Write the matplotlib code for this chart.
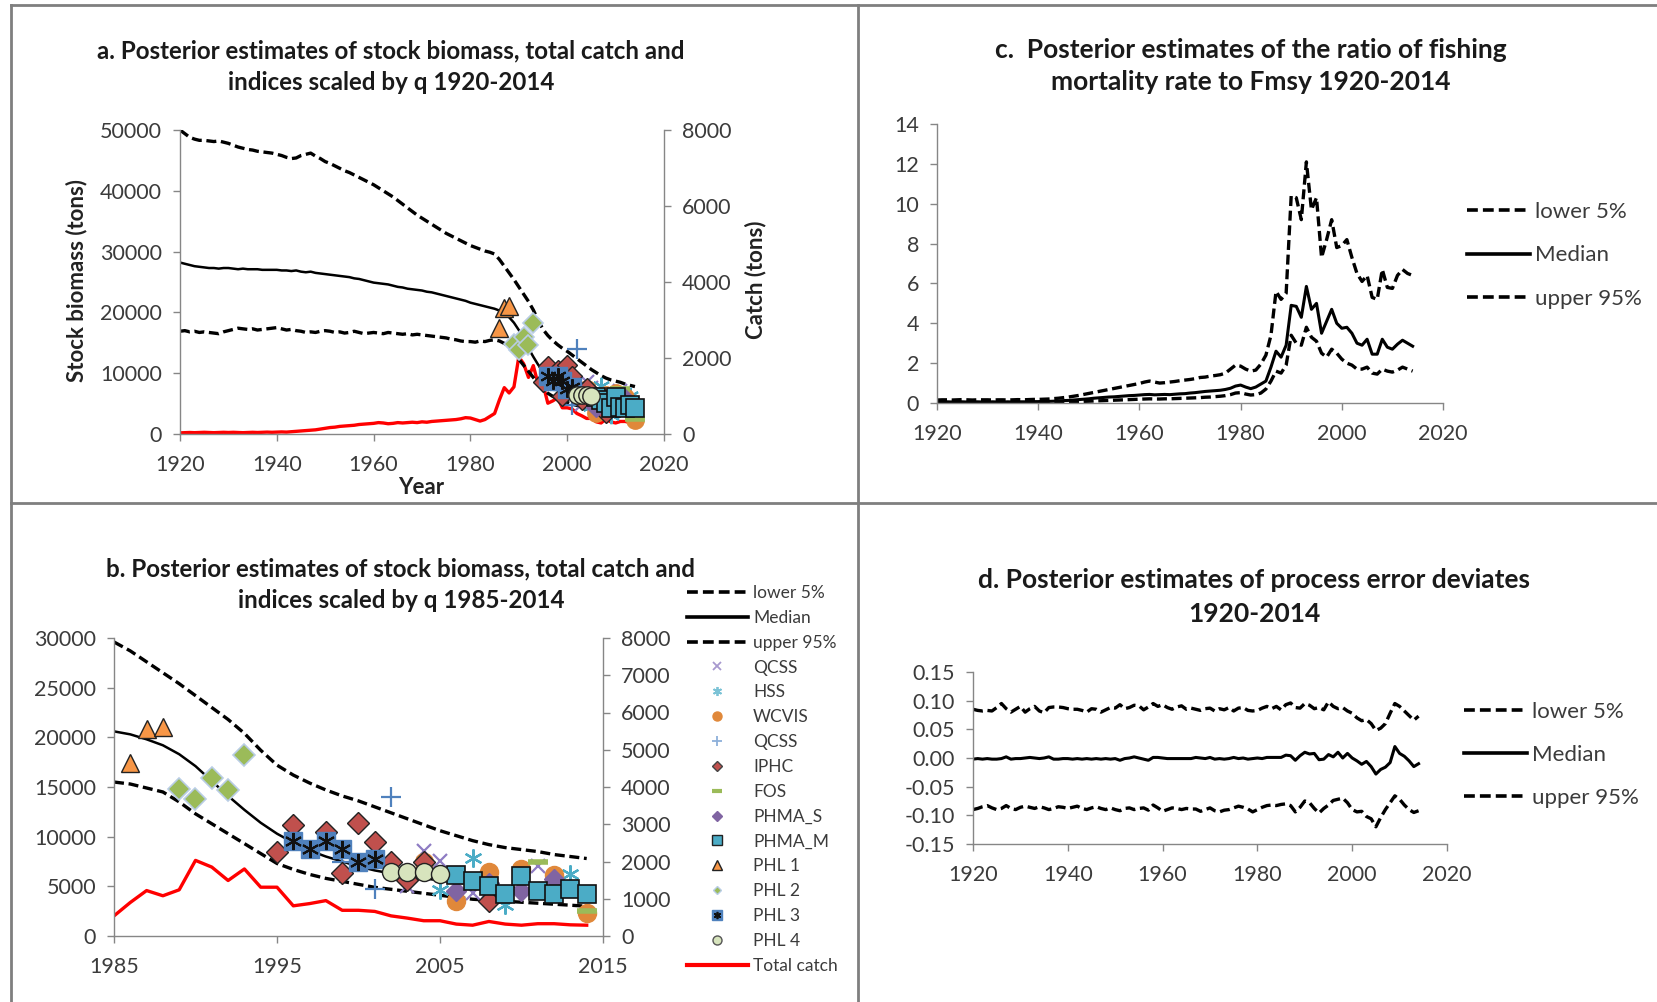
import numpy as np
import matplotlib.pyplot as plt
from matplotlib.lines import Line2D
from matplotlib.ticker import FormatStrFormatter, MultipleLocator

plt.rcParams['font.family'] = ['Lato', 'DejaVu Sans']

# ---------------- data ----------------
years = list(range(1920, 2015))

biomass_upper = [50000, 49400, 48800, 48500, 48300, 48300, 48200, 48100, 48200, 48000,
                 47800, 47500, 47200, 47000, 46800, 46700, 46500, 46400, 46300, 46200,
                 46000, 45800, 45500, 45300, 45400, 45800, 46000, 46200, 45700, 45300,
                 44800, 44500, 44100, 43700, 43300, 43000, 42600, 42200, 41800, 41400,
                 41000, 40500, 40000, 39500, 39000, 38400, 37800, 37200, 36600, 36000,
                 35500, 35000, 34500, 34000, 33500, 33000, 32600, 32200, 31800, 31400,
                 31000, 30700, 30400, 30100, 29900, 29600, 28700, 27600, 26500, 25400,
                 24200, 23000, 21800, 20400, 18700, 17200, 16200, 15400, 14700, 14100,
                 13600, 13000, 12400, 11800, 11200, 10600, 10100, 9600, 9200, 8900,
                 8700, 8500, 8200, 8000, 7800]
biomass_median = [28200, 28000, 27800, 27600, 27500, 27400, 27300, 27300, 27200, 27300,
                  27300, 27200, 27100, 27200, 27100, 27100, 27100, 27000, 27000, 27000,
                  27000, 26900, 26900, 26800, 26900, 26700, 26600, 26700, 26500, 26400,
                  26300, 26200, 26100, 26000, 25900, 25800, 25600, 25500, 25300, 25100,
                  24900, 24800, 24700, 24600, 24400, 24200, 24100, 23900, 23800, 23700,
                  23600, 23400, 23300, 23100, 22900, 22700, 22500, 22300, 22100, 21900,
                  21600, 21400, 21200, 21000, 20800, 20600, 20300, 19800, 19200, 18300,
                  17100, 15600, 14100, 12700, 11400, 10300, 9400, 8600, 8000, 7500,
                  7000, 6600, 6300, 6000, 5800, 5600, 5400, 5200, 5000, 4900,
                  4800, 4700, 4600, 4500, 4400]
biomass_lower = [16900, 17000, 16800, 16900, 16700, 16800, 16700, 16600, 16500, 16800,
                 17000, 17200, 17400, 17300, 17200, 17300, 17100, 17200, 17300, 17400,
                 17500, 17300, 17100, 17200, 17000, 16900, 16700, 16800, 16700, 16900,
                 17000, 16900, 16700, 16800, 16600, 16700, 16900, 16700, 16500, 16600,
                 16700, 16600, 16500, 16700, 16600, 16500, 16400, 16500, 16300, 16400,
                 16300, 16200, 16100, 16000, 15900, 15800, 15600, 15500, 15300, 15200,
                 15200, 15100, 15300, 15200, 15400, 15500, 15300, 14900, 14500, 13500,
                 12300, 11300, 10300, 9300, 8300, 7300, 6700, 6200, 5800, 5500,
                 5200, 4900, 4700, 4500, 4300, 4100, 3900, 3700, 3600, 3500,
                 3400, 3300, 3200, 3100, 3000]
total_catch = [30, 35, 40, 35, 40, 45, 40, 35, 40, 45,
               40, 45, 40, 35, 40, 45, 40, 45, 50, 45,
               50, 55, 50, 60, 70, 80, 90, 100, 110, 130,
               150, 170, 180, 200, 210, 220, 230, 250, 260, 270,
               280, 300, 290, 270, 280, 300, 290, 300, 310, 300,
               320, 310, 330, 340, 350, 360, 370, 380, 400, 430,
               420, 380, 340, 380, 460, 540, 900, 1220, 1080, 1240,
               2030, 1850, 1490, 1800, 1310, 1310, 810, 870, 950, 690,
               690, 660, 540, 480, 410, 410, 320, 290, 390, 320,
               290, 330, 330, 300, 290]

# abundance indices scaled by q
qcss1_yr = [2003, 2004, 2005, 2007, 2008, 2011, 2012]
qcss1 = [5000, 8600, 7600, 4300, 4500, 7000, 5500]
hss_yr = [2005, 2007, 2009, 2013]
hss = [4600, 7900, 3100, 6200]
wcvis_yr = [2004, 2006, 2008, 2010, 2012, 2014]
wcvis = [7400, 3500, 6400, 6700, 6100, 2300]
qcss2_yr = [1999, 2001, 2002]
qcss2 = [7500, 4700, 14000]
iphc_yr = [1995, 1996, 1998, 1999, 2000, 2001, 2002, 2003, 2004, 2008]
iphc = [8500, 11200, 10500, 6300, 11400, 9500, 7500, 5600, 7500, 3500]
fos_yr = [2011, 2014]
fos = [7400, 2500]
phma_s_yr = [2006, 2008, 2010, 2012]
phma_s = [4500, 5300, 4500, 5700]
phma_m_yr = [2006, 2007, 2008, 2009, 2010, 2011, 2012, 2013, 2014]
phma_m = [6100, 5550, 5050, 4200, 6050, 4500, 4250, 4750, 4200]
phl1_yr = [1986, 1987, 1988]
phl1 = [17400, 20800, 21000]
phl2_yr = [1989, 1990, 1991, 1992, 1993]
phl2 = [14800, 13800, 15900, 14700, 18200]
phl3_yr = [1996, 1997, 1998, 1999, 2000, 2001]
phl3 = [9600, 8750, 9600, 8750, 7400, 7750]
phl4_yr = [2002, 2003, 2004, 2005]
phl4 = [6400, 6400, 6400, 6200]

# F / Fmsy
f_upper = [0.15, 0.16, 0.16, 0.15, 0.16, 0.17, 0.16, 0.15, 0.16, 0.16,
           0.16, 0.15, 0.16, 0.16, 0.15, 0.16, 0.17, 0.16, 0.17, 0.18,
           0.18, 0.19, 0.20, 0.22, 0.24, 0.27, 0.30, 0.34, 0.38, 0.43,
           0.48, 0.53, 0.58, 0.63, 0.68, 0.73, 0.78, 0.83, 0.88, 0.93,
           0.98, 1.05, 1.10, 1.05, 1.00, 1.02, 1.05, 1.08, 1.12, 1.15,
           1.18, 1.22, 1.28, 1.30, 1.35, 1.38, 1.42, 1.50, 1.70, 1.90,
           1.85, 1.70, 1.60, 1.65, 1.95, 2.40, 3.40, 5.60, 5.20, 5.50,
           10.40, 10.30, 9.20, 12.10, 9.70, 10.30, 7.30, 8.20, 9.20, 7.80,
           7.90, 8.20, 7.30, 6.50, 6.10, 6.40, 5.30, 5.20, 6.70, 5.80,
           5.75, 6.40, 6.70, 6.50, 6.40]
f_median = [0.05, 0.05, 0.06, 0.05, 0.05, 0.06, 0.05, 0.05, 0.06, 0.05,
            0.05, 0.06, 0.05, 0.05, 0.06, 0.05, 0.06, 0.06, 0.06, 0.07,
            0.07, 0.08, 0.08, 0.09, 0.10, 0.12, 0.13, 0.15, 0.17, 0.19,
            0.21, 0.24, 0.26, 0.28, 0.30, 0.31, 0.33, 0.35, 0.37, 0.38,
            0.40, 0.42, 0.43, 0.41, 0.42, 0.43, 0.42, 0.44, 0.46, 0.47,
            0.50, 0.52, 0.55, 0.58, 0.60, 0.62, 0.64, 0.68, 0.74, 0.85,
            0.90, 0.80, 0.72, 0.80, 0.95, 1.10, 1.80, 2.60, 2.30, 2.90,
            4.90, 4.85, 4.30, 5.85, 4.70, 5.00, 3.50, 4.10, 4.70, 4.00,
            3.75, 3.80, 3.50, 3.00, 2.90, 3.20, 2.45, 2.45, 3.20, 2.80,
            2.70, 2.95, 3.15, 3.00, 2.85]
f_lower = [0.02, 0.02, 0.02, 0.02, 0.02, 0.02, 0.02, 0.02, 0.02, 0.02,
           0.02, 0.02, 0.02, 0.02, 0.02, 0.02, 0.02, 0.03, 0.03, 0.03,
           0.03, 0.03, 0.03, 0.04, 0.04, 0.05, 0.05, 0.06, 0.07, 0.08,
           0.09, 0.10, 0.11, 0.12, 0.13, 0.14, 0.15, 0.16, 0.17, 0.18,
           0.19, 0.20, 0.21, 0.20, 0.20, 0.21, 0.21, 0.22, 0.23, 0.24,
           0.25, 0.26, 0.27, 0.29, 0.30, 0.32, 0.34, 0.37, 0.42, 0.50,
           0.52, 0.45, 0.40, 0.42, 0.50, 0.70, 1.10, 1.60, 1.50, 1.90,
           3.40, 3.00, 2.90, 3.80, 3.30, 3.10, 2.50, 2.30, 2.70, 2.50,
           2.20, 2.00, 1.90, 1.70, 1.70, 1.80, 1.50, 1.45, 1.70, 1.60,
           1.55, 1.65, 1.80, 1.70, 1.60]

# process error deviates
dev_upper = [0.085, 0.083, 0.082, 0.083, 0.082, 0.088, 0.095, 0.086, 0.080, 0.085,
             0.090, 0.080, 0.086, 0.090, 0.082, 0.079, 0.088, 0.089, 0.089, 0.088,
             0.086, 0.085, 0.085, 0.083, 0.080, 0.086, 0.085, 0.080, 0.084, 0.088,
             0.087, 0.093, 0.086, 0.088, 0.092, 0.091, 0.084, 0.089, 0.095, 0.090,
             0.093, 0.088, 0.085, 0.089, 0.091, 0.085, 0.087, 0.085, 0.083, 0.086,
             0.087, 0.082, 0.086, 0.084, 0.088, 0.082, 0.087, 0.088, 0.083, 0.082,
             0.083, 0.087, 0.090, 0.086, 0.090, 0.084, 0.093, 0.096, 0.088, 0.087,
             0.095, 0.092, 0.086, 0.088, 0.084, 0.098, 0.090, 0.086, 0.088, 0.082,
             0.078, 0.070, 0.065, 0.067, 0.060, 0.048, 0.052, 0.060, 0.078, 0.095,
             0.090, 0.082, 0.074, 0.066, 0.073]
dev_median = [-0.002, -0.001, -0.002, -0.001, -0.002, -0.002, -0.001, 0.002, -0.002, -0.001,
              -0.001, 0.000, 0.001, 0.000, -0.001, 0.000, 0.002, -0.002, -0.002, -0.001,
              -0.001, -0.002, -0.001, -0.002, -0.001, -0.002, -0.001, -0.002, -0.001, -0.002,
              -0.001, -0.004, -0.001, 0.000, 0.002, 0.000, -0.002, -0.004, 0.001, 0.001,
              0.000, -0.001, -0.001, -0.001, -0.001, -0.001, -0.001, 0.001, 0.000, -0.001,
              0.001, -0.002, -0.001, -0.002, -0.001, 0.001, -0.001, 0.000, -0.002, -0.001,
              0.000, -0.001, 0.001, 0.001, 0.001, 0.001, 0.005, 0.004, -0.004, 0.004,
              0.010, 0.007, 0.008, -0.003, -0.002, 0.006, 0.002, 0.010, 0.000, 0.008,
              0.000, -0.005, -0.011, -0.006, -0.015, -0.028, -0.020, -0.016, -0.008, 0.020,
              0.008, 0.003, -0.005, -0.015, -0.010]
dev_lower = [-0.090, -0.088, -0.085, -0.083, -0.087, -0.090, -0.088, -0.083, -0.088, -0.090,
             -0.086, -0.084, -0.086, -0.088, -0.085, -0.087, -0.090, -0.088, -0.085, -0.086,
             -0.088, -0.086, -0.084, -0.088, -0.090, -0.087, -0.085, -0.088, -0.090, -0.087,
             -0.090, -0.092, -0.088, -0.087, -0.090, -0.088, -0.087, -0.091, -0.082, -0.087,
             -0.093, -0.090, -0.087, -0.088, -0.090, -0.088, -0.089, -0.089, -0.093, -0.090,
             -0.087, -0.092, -0.094, -0.091, -0.090, -0.087, -0.084, -0.086, -0.089, -0.094,
             -0.090, -0.086, -0.083, -0.082, -0.083, -0.081, -0.080, -0.083, -0.094, -0.086,
             -0.075, -0.078, -0.088, -0.096, -0.088, -0.082, -0.074, -0.072, -0.070, -0.078,
             -0.090, -0.094, -0.093, -0.102, -0.106, -0.120, -0.104, -0.090, -0.078, -0.066,
             -0.072, -0.082, -0.090, -0.095, -0.092]

# ---------------- layout ----------------
W, H = 1658, 1002
fig = plt.figure(figsize=(W / 100, H / 100), dpi=100)

GRAY = '#868686'
TXT = '#3b3b3b'
DASH = (0, (3, 1.4))
TICK_FS = 15.5


def px_box(l, t, r, b):
    return [l / W, 1 - b / H, (r - l) / W, (b - t) / H]


def fx(x):
    return x / W


def fy(y):
    return 1 - y / H


def style(ax, right=False):
    ax.spines['top'].set_visible(False)
    ax.spines['right'].set_visible(right)
    for s in ['left', 'bottom', 'right']:
        ax.spines[s].set_color(GRAY)
        ax.spines[s].set_linewidth(1.0)
    ax.tick_params(colors=GRAY, labelcolor=TXT, labelsize=TICK_FS, length=5, width=1, direction='out')
    ax.tick_params(axis='x', pad=10)
    ax.tick_params(axis='y', pad=8)
    ax.patch.set_visible(False)


def title(cx, y1, y2, line1, line2, fs):
    fig.text(fx(cx), fy(y1), line1, ha='center', va='center', fontsize=fs, fontweight='bold', color='#1a1a1a')
    fig.text(fx(cx), fy(y2), line2, ha='center', va='center', fontsize=fs, fontweight='bold', color='#1a1a1a')


def draw_indices(ax, ms):
    ax.plot(qcss1_yr, qcss1, ls='none', marker='x', ms=ms * 0.8, mec='#8E7CC3', mew=1.6)
    ax.plot(hss_yr, hss, ls='none', marker=(6, 2, 0), ms=ms, mec='#4BACC6', mew=1.6)
    ax.plot(wcvis_yr, wcvis, ls='none', marker='o', ms=ms, mfc='#E0883A', mec='#E0883A')
    ax.plot(qcss2_yr, qcss2, ls='none', marker='+', ms=ms * 1.1, mec='#4F81BD', mew=1.6)
    ax.plot(iphc_yr, iphc, ls='none', marker='D', ms=ms * 0.85, mfc='#C0504D', mec='#222222', mew=1.0)
    ax.plot(fos_yr, fos, ls='none', marker='_', ms=ms * 1.1, mec='#9BBB59', mew=4)
    ax.plot(phma_s_yr, phma_s, ls='none', marker='D', ms=ms * 0.8, mfc='#8064A2', mec='#8064A2')
    ax.plot(phma_m_yr, phma_m, ls='none', marker='s', ms=ms, mfc='#4BACC6', mec='#111111', mew=1.2)
    ax.plot(phl1_yr, phl1, ls='none', marker='^', ms=ms * 1.05, mfc='#F79646', mec='#222222', mew=1.0)
    ax.plot(phl2_yr, phl2, ls='none', marker='D', ms=ms * 0.85, mfc='#9BBB59', mec='#B9CDE5', mew=1.2)
    ax.plot(phl3_yr, phl3, ls='none', marker='s', ms=ms, mfc='#4F81BD', mec='#4F81BD')
    ax.plot(phl3_yr, phl3, ls='none', marker=(6, 2, 0), ms=ms * 0.95, mec='#111111', mew=1.5)
    ax.plot(phl4_yr, phl4, ls='none', marker='o', ms=ms, mfc='#D7E4BD', mec='#222222', mew=1.0)


def frame_line(x0, y0, x1, y1):
    fig.add_artist(Line2D([fx(x0), fx(x1)], [fy(y0), fy(y1)], color='#7f7f7f', lw=2))


frame_line(11, 5, 1658, 5)
frame_line(11, 5, 11, 1002)
frame_line(858, 5, 858, 1002)
frame_line(11, 503, 1658, 503)

# ---- a ----
ax = fig.add_axes(px_box(180, 130, 664, 434))
ax2 = ax.twinx()
ax.set_zorder(ax2.get_zorder() + 1)
ax2.plot(years, total_catch, color='#FF0000', lw=2.4)
ax.plot(years, biomass_upper, color='black', lw=2.4, ls=DASH)
ax.plot(years, biomass_median, color='black', lw=1.8)
ax.plot(years, biomass_lower, color='black', lw=2.4, ls=DASH)
draw_indices(ax, 12.5)
ax.set_xlim(1920, 2020)
ax.set_ylim(0, 50000)
ax2.set_ylim(0, 8000)
ax.xaxis.set_major_locator(MultipleLocator(20))
ax.yaxis.set_major_locator(MultipleLocator(10000))
ax2.yaxis.set_major_locator(MultipleLocator(2000))
style(ax)
style(ax2, right=True)
ax2.spines['left'].set_visible(False)
ax2.spines['bottom'].set_visible(False)
fig.text(fx(77), fy(280), 'Stock biomass (tons)', rotation=90, ha='center', va='center',
         fontsize=16, fontweight='bold', color='#222222')
fig.text(fx(756), fy(280), 'Catch (tons)', rotation=90, ha='center', va='center',
         fontsize=16, fontweight='bold', color='#222222')
fig.text(fx(421), fy(487), 'Year', ha='center', va='center', fontsize=16, fontweight='bold', color='#222222')
title(391, 51, 83, 'a. Posterior estimates of stock biomass, total catch and',
      'indices scaled by q 1920-2014', 17.4)

# ---- b ----
i0 = years.index(1985)
yb = years[i0:]
bx = fig.add_axes(px_box(114, 638, 603, 936))
bx2 = bx.twinx()
bx.set_zorder(bx2.get_zorder() + 1)
bx2.plot(yb, total_catch[i0:], color='#FF0000', lw=2.4)
bx.plot(yb, biomass_upper[i0:], color='black', lw=2.4, ls=DASH)
bx.plot(yb, biomass_median[i0:], color='black', lw=1.8)
bx.plot(yb, biomass_lower[i0:], color='black', lw=2.4, ls=DASH)
draw_indices(bx, 13)
bx.set_xlim(1985, 2015)
bx.set_ylim(0, 30000)
bx2.set_ylim(0, 8000)
bx.set_xticks([1985, 1995, 2005, 2015])
bx.yaxis.set_major_locator(MultipleLocator(5000))
bx2.yaxis.set_major_locator(MultipleLocator(1000))
style(bx)
style(bx2, right=True)
bx2.spines['left'].set_visible(False)
bx2.spines['bottom'].set_visible(False)
title(401, 569, 601, 'b. Posterior estimates of stock biomass, total catch and',
      'indices scaled by q 1985-2014', 17.4)

lg = 6.5
h_idx = [
    Line2D([], [], ls='none', marker='x', ms=lg * 0.9, mec='#A899CF', mew=1.3),
    Line2D([], [], ls='none', marker=(6, 2, 0), ms=lg, mec='#7CC3D6', mew=1.3),
    Line2D([], [], ls='none', marker='o', ms=lg, mfc='#E0883A', mec='#E0883A'),
    Line2D([], [], ls='none', marker='+', ms=lg, mec='#8DB0DA', mew=1.3),
    Line2D([], [], ls='none', marker='D', ms=lg * 0.8, mfc='#C0504D', mec='#444444'),
    Line2D([], [], ls='none', marker='_', ms=lg * 1.2, mec='#9BBB59', mew=3),
    Line2D([], [], ls='none', marker='D', ms=lg * 0.8, mfc='#8064A2', mec='#8064A2'),
    Line2D([], [], ls='none', marker='s', ms=lg, mfc='#4BACC6', mec='#222222'),
    Line2D([], [], ls='none', marker='^', ms=lg, mfc='#F79646', mec='#222222'),
    Line2D([], [], ls='none', marker='D', ms=lg * 0.7, mfc='#9BBB59', mec='#B9CDE5'),
    (Line2D([], [], ls='none', marker='s', ms=lg, mfc='#4F81BD', mec='#4F81BD'),
     Line2D([], [], ls='none', marker=(6, 2, 0), ms=lg * 0.8, mec='#111111', mew=1.2)),
    Line2D([], [], ls='none', marker='o', ms=lg, mfc='#D7E4BD', mec='#555555'),
]
h_b = [Line2D([], [], color='black', lw=2.6, ls=DASH),
       Line2D([], [], color='black', lw=2.6)] + [Line2D([], [], color='black', lw=2.6, ls=DASH)] + h_idx + \
      [Line2D([], [], color='#FF0000', lw=3)]
l_b = ['lower 5%', 'Median', 'upper 95%', 'QCSS', 'HSS', 'WCVIS', 'QCSS', 'IPHC', 'FOS',
       'PHMA_S', 'PHMA_M', 'PHL 1', 'PHL 2', 'PHL 3', 'PHL 4', 'Total catch']
fig.legend(h_b, l_b, loc='upper left', bbox_to_anchor=(fx(687), fy(585)), frameon=False,
           fontsize=12.5, handlelength=3.5, handletextpad=0.3, labelspacing=0.51, borderpad=0,
           borderaxespad=0, numpoints=1, labelcolor=TXT)

# ---- c ----
cx = fig.add_axes(px_box(937, 124, 1443, 403))
cx.plot(years, f_upper, color='black', lw=2.4, ls=DASH, label='lower 5%')
cx.plot(years, f_median, color='black', lw=2.2, label='Median')
cx.plot(years, f_lower, color='black', lw=2.4, ls=DASH, label='upper 95%')
cx.set_xlim(1920, 2020)
cx.set_ylim(0, 14)
cx.xaxis.set_major_locator(MultipleLocator(20))
cx.yaxis.set_major_locator(MultipleLocator(2))
style(cx)
title(1251, 50, 82, 'c.  Posterior estimates of the ratio of fishing',
      'mortality rate to Fmsy 1920-2014', 19)
h_c = [Line2D([], [], color='black', lw=2.6, ls=DASH), Line2D([], [], color='black', lw=2.6),
       Line2D([], [], color='black', lw=2.6, ls=DASH)]
fig.legend(h_c, ['lower 5%', 'Median', 'upper 95%'], loc='upper left', bbox_to_anchor=(fx(1467), fy(202)),
           frameon=False, fontsize=16, handlelength=2.85, handletextpad=0.2, labelspacing=1.05,
           borderpad=0, borderaxespad=0, labelcolor=TXT)

# ---- d ----
dx = fig.add_axes(px_box(973, 672, 1447, 844))
dx.plot(years, dev_upper, color='black', lw=2.4, ls=DASH)
dx.plot(years, dev_median, color='black', lw=2.2)
dx.plot(years, dev_lower, color='black', lw=2.4, ls=DASH)
dx.set_xlim(1920, 2020)
dx.set_ylim(-0.15, 0.15)
dx.xaxis.set_major_locator(MultipleLocator(20))
dx.yaxis.set_major_locator(MultipleLocator(0.05))
dx.yaxis.set_major_formatter(FormatStrFormatter('%.2f'))
style(dx)
title(1254, 580, 614, 'd. Posterior estimates of process error deviates', '1920-2014', 19)
fig.legend(h_c, ['lower 5%', 'Median', 'upper 95%'], loc='upper left', bbox_to_anchor=(fx(1464), fy(702)),
           frameon=False, fontsize=16, handlelength=2.85, handletextpad=0.2, labelspacing=1.03,
           borderpad=0, borderaxespad=0, labelcolor=TXT)

fig.savefig('out.png', dpi=100)
